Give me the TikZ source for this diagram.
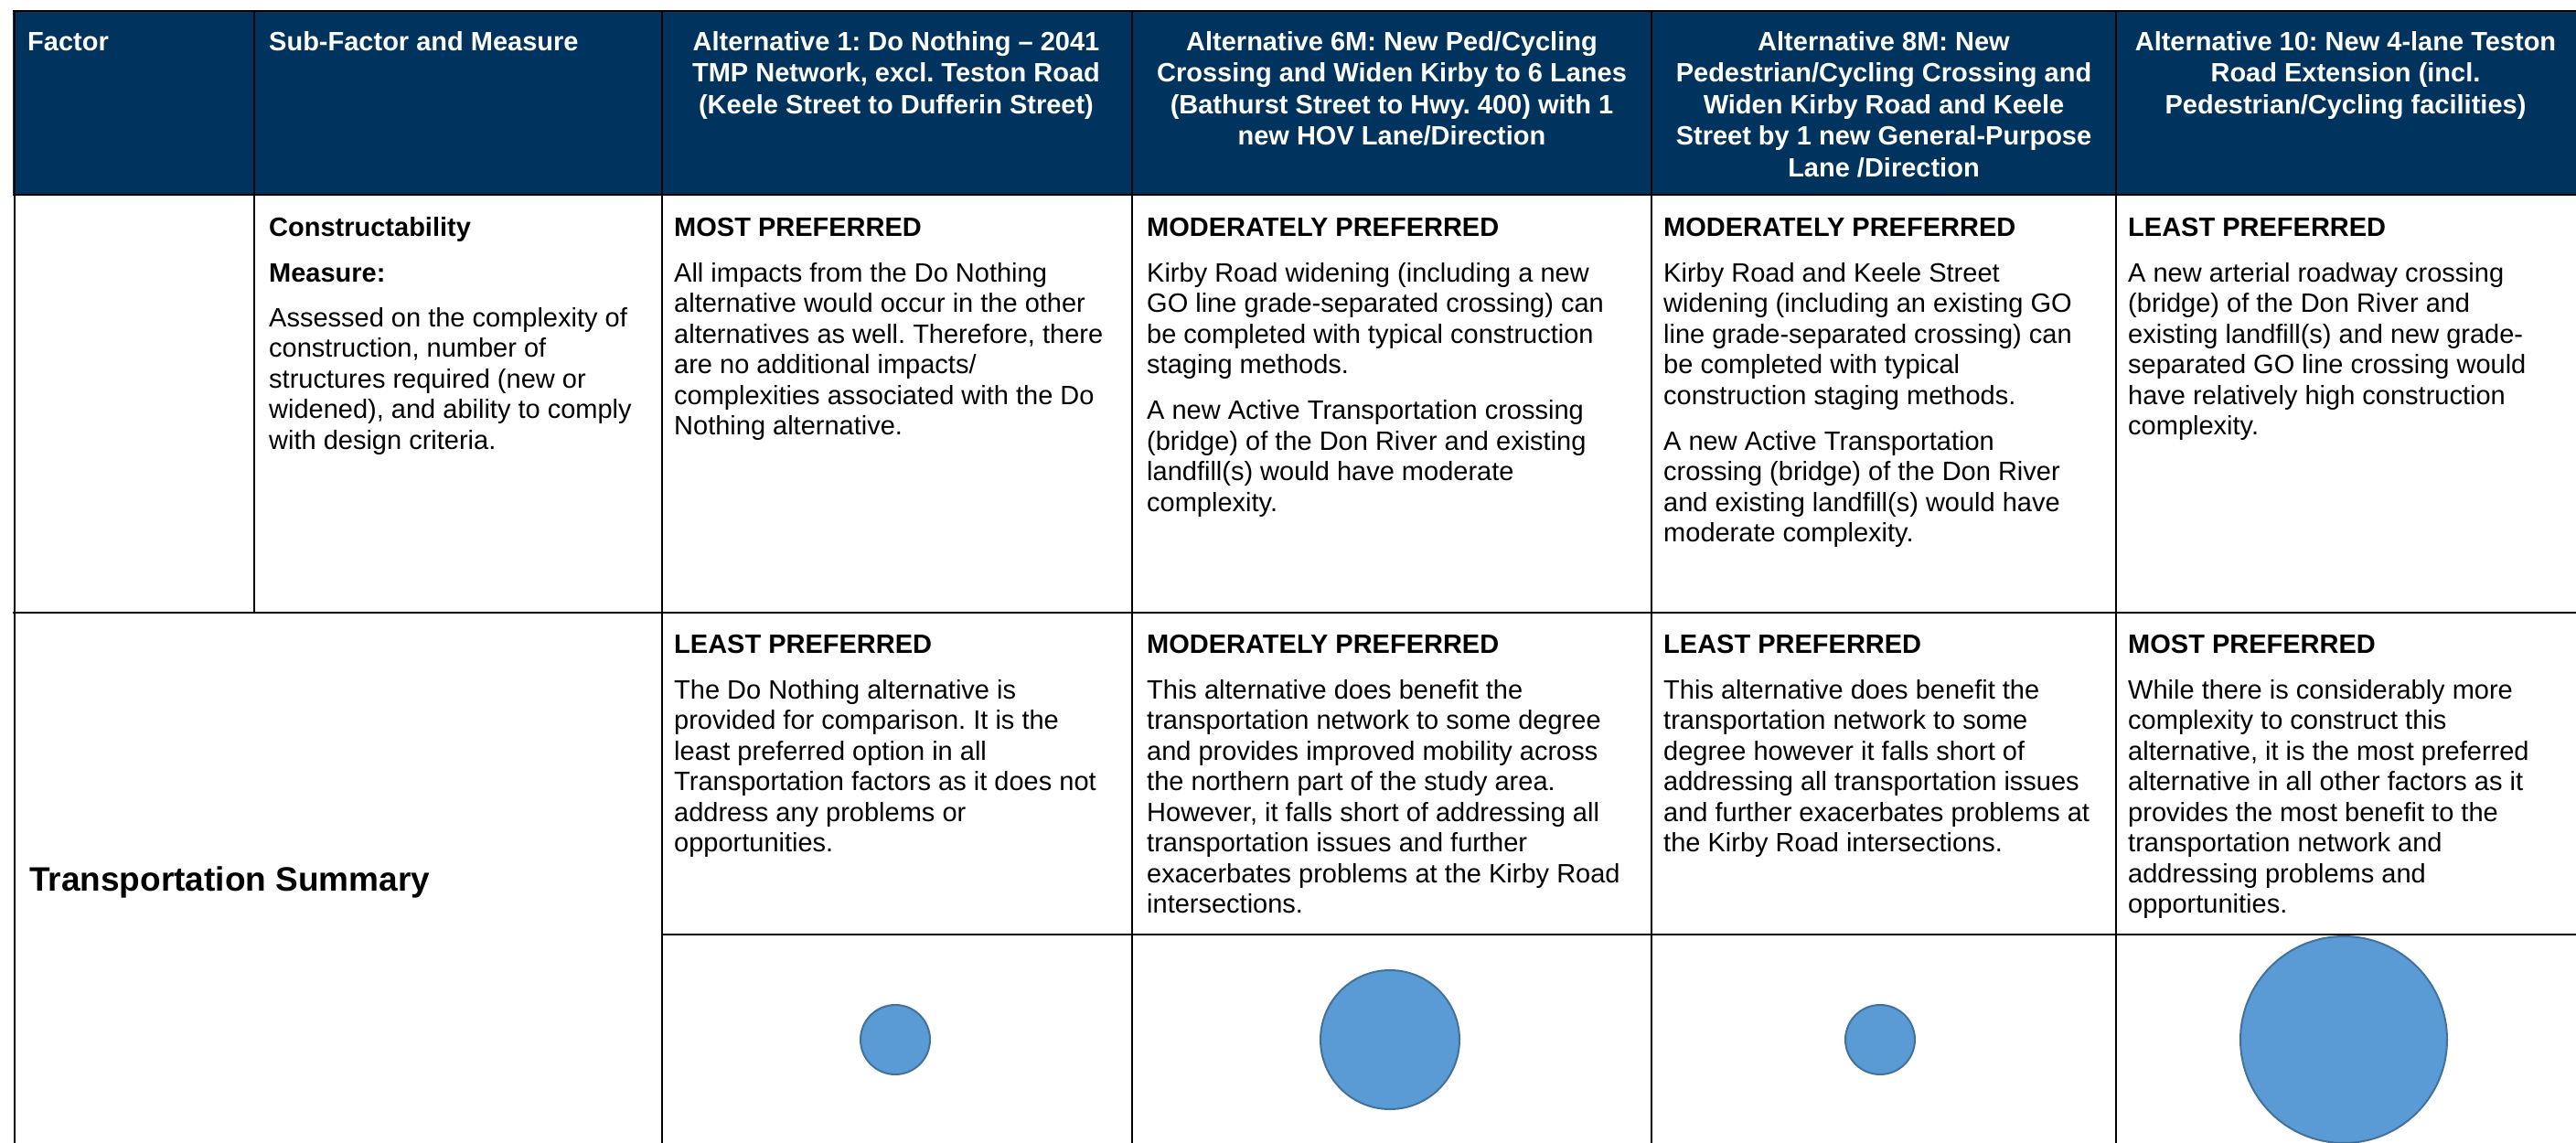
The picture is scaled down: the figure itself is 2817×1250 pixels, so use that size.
\documentclass[tikz,border=0pt]{standalone}
\usepackage{fontspec}
\setmainfont{Liberation Sans}
\frenchspacing
\definecolor{hdrnavy}{RGB}{0,51,94}
\definecolor{cfill}{RGB}{91,155,213}
\definecolor{cdraw}{RGB}{65,113,156}
\newcommand\tstr{\rule{0pt}{24pt}}
\begin{document}
\begin{tikzpicture}[x=1pt,y=-1pt,
  cell/.style={anchor=north west, inner sep=0pt, align=left, font=\fontsize{29}{33.5}\selectfont\frenchspacing},
  hdr/.style={anchor=north, inner sep=0pt, align=center, text=white, font=\fontsize{29}{34.5}\selectfont\bfseries\frenchspacing},
  hdrl/.style={anchor=north west, inner sep=0pt, align=left, text=white, font=\fontsize{29}{34.5}\selectfont\bfseries\frenchspacing},
  thickrule/.style={line width=2.6pt, black},
  midrule/.style={line width=2pt, black},
  vrule/.style={line width=1.3pt, black},
  bubble/.style={circle, inner sep=0pt, fill=cfill, draw=cdraw, line width=2pt}]
\useasboundingbox (0,0) rectangle (2817,1250);
\clip (0,0) rectangle (2817,1250);
% header background
\fill[hdrnavy] (14,12) rectangle (2840,213);
% header texts
\node[hdrl] (hfactor) at (30,31) {\tstr Factor};
\node[hdrl] (hsub) at (294,31) {\tstr Sub-Factor and Measure};
\node[hdr] (halt1) at (980,31) {\tstr Alternative 1: Do Nothing – 2041\\TMP Network, excl. Teston Road\\(Keele Street to Dufferin Street)};
\node[hdr] (halt6) at (1522,31) {\tstr Alternative 6M: New Ped/Cycling\\Crossing and Widen Kirby to 6 Lanes\\(Bathurst Street to Hwy. 400) with 1\\new HOV Lane/Direction};
\node[hdr] (halt8) at (2060,31) {\tstr Alternative 8M: New\\Pedestrian/Cycling Crossing and\\Widen Kirby Road and Keele\\Street by 1 new General-Purpose\\Lane /Direction};
\node[hdr] (halt10) at (2565,31) {\tstr Alternative 10: New 4-lane Teston\\Road Extension (incl.\\Pedestrian/Cycling facilities)};
% row 1
\node[cell] (r1sub) at (294,234) {\tstr\textbf{Constructability}\\[16.5pt]\textbf{Measure:}\\[15.5pt]Assessed on the complexity of\\construction, number of\\structures required (new or\\widened), and ability to comply\\with design criteria.};
\node[cell] (r1a1) at (737,234) {\tstr\textbf{MOST PREFERRED}\\[16.5pt]All impacts from the Do Nothing\\alternative would occur in the other\\alternatives as well. Therefore, there\\are no additional impacts/\\complexities associated with the Do\\Nothing alternative.};
\node[cell] (r1a6) at (1254,234) {\tstr\textbf{MODERATELY PREFERRED}\\[16.5pt]Kirby Road widening (including a new\\GO line grade-separated crossing) can\\be completed with typical construction\\staging methods.\\[16.5pt]A new Active Transportation crossing\\(bridge) of the Don River and existing\\landfill(s) would have moderate\\complexity.};
\node[cell] (r1a8) at (1819,234) {\tstr\textbf{MODERATELY PREFERRED}\\[16.5pt]Kirby Road and Keele Street\\widening (including an existing GO\\line grade-separated crossing) can\\be completed with typical\\construction staging methods.\\[16.5pt]A new Active Transportation\\crossing (bridge) of the Don River\\and existing landfill(s) would have\\moderate complexity.};
\node[cell] (r1a10) at (2327,234) {\tstr\textbf{LEAST PREFERRED}\\[16.5pt]A new arterial roadway crossing\\(bridge) of the Don River and\\existing landfill(s) and new grade-\\separated GO line crossing would\\have relatively high construction\\complexity.};
% row 2
\node[anchor=base west, inner sep=0pt, font=\fontsize{37}{42}\selectfont\bfseries] (tsum) at (32,974) {Transportation Summary};
\node[cell] (r2a1) at (737,690) {\tstr\textbf{LEAST PREFERRED}\\[16.5pt]The Do Nothing alternative is\\provided for comparison. It is the\\least preferred option in all\\Transportation factors as it does not\\address any problems or\\opportunities.};
\node[cell] (r2a6) at (1254,690) {\tstr\textbf{MODERATELY PREFERRED}\\[16.5pt]This alternative does benefit the\\transportation network to some degree\\and provides improved mobility across\\the northern part of the study area.\\However, it falls short of addressing all\\transportation issues and further\\exacerbates problems at the Kirby Road\\intersections.};
\node[cell] (r2a8) at (1819,690) {\tstr\textbf{LEAST PREFERRED}\\[16.5pt]This alternative does benefit the\\transportation network to some\\degree however it falls short of\\addressing all transportation issues\\and further exacerbates problems at\\the Kirby Road intersections.};
\node[cell] (r2a10) at (2327,690) {\tstr\textbf{MOST PREFERRED}\\[16.5pt]While there is considerably more\\complexity to construct this\\alternative, it is the most preferred\\alternative in all other factors as it\\provides the most benefit to the\\transportation network and\\addressing problems and\\opportunities.};
% bubbles
\node[bubble, minimum size=76pt] (b1) at (979,1137) {};
\node[bubble, minimum size=152pt] (b6) at (1520,1137) {};
\node[bubble, minimum size=76pt] (b8) at (2056,1137) {};
\node[bubble, minimum size=226pt] (b10) at (2563,1137) {};
% grid lines
\draw[vrule] (278,12) -- (278,670);
\draw[vrule] (724,12) -- (724,1260);
\draw[vrule] (1238,12) -- (1238,1260);
\draw[vrule] (1806,12) -- (1806,1260);
\draw[vrule] (2314,12) -- (2314,1260);
\draw[midrule] (15.5,12) -- (15.5,1260);
\draw[thickrule] (14,12) -- (2840,12);
\draw[thickrule] (14,213) -- (2840,213);
\draw[midrule] (14,670) -- (2840,670);
\draw[midrule] (724,1022) -- (2840,1022);
\end{tikzpicture}
\end{document}
